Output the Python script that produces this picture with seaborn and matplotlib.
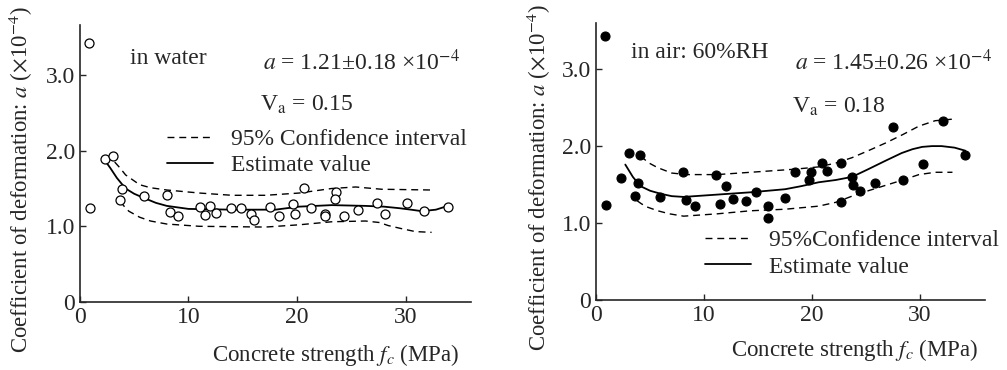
import numpy as np
import pandas as pd
import matplotlib
matplotlib.use('Agg')
import matplotlib.pyplot as plt
import seaborn as sns

# ---- in water: measured points ----
water_fc = [0.8, 0.9, 2.3, 3.0, 3.9, 3.7, 5.9, 8.0, 8.3, 9.0, 11.1, 11.5, 12.0, 12.5,
            13.9, 14.8, 15.8, 16.0, 17.5, 18.3, 19.6, 19.8, 20.6, 21.3, 22.6, 22.6,
            23.6, 23.5, 24.3, 25.6, 27.4, 28.1, 30.1, 31.7, 33.9]
water_a = [3.42, 1.24, 1.89, 1.93, 1.49, 1.35, 1.40, 1.42, 1.19, 1.14, 1.25, 1.15, 1.27, 1.18,
           1.24, 1.24, 1.16, 1.08, 1.25, 1.14, 1.29, 1.16, 1.51, 1.24, 1.16, 1.14,
           1.46, 1.36, 1.13, 1.22, 1.31, 1.16, 1.31, 1.20, 1.26]

# in water: estimate and 95% band
water_est_x = [2.3, 2.8, 3.4, 4.2, 5.0, 5.8, 7.0, 8.0, 10.0, 14.0, 18.0, 20.2, 23.2, 26.3, 28.0, 29.4, 30.5, 31.5, 32.8, 33.9]
water_est_y = [1.87, 1.77, 1.64, 1.50, 1.43, 1.38, 1.31, 1.27, 1.23, 1.22, 1.22, 1.26, 1.28, 1.27, 1.26, 1.24, 1.22, 1.20, 1.22, 1.27]
water_up_x = [3.2, 3.7, 4.2, 5.0, 5.5, 6.5, 8.0, 11.0, 14.0, 17.1, 20.2, 23.2, 25.4, 27.8, 32.4]
water_up_y = [1.85, 1.77, 1.68, 1.60, 1.55, 1.51, 1.48, 1.44, 1.41, 1.41, 1.44, 1.50, 1.52, 1.49, 1.48]
water_lo_x = [3.7, 4.1, 4.5, 5.5, 6.5, 8.0, 11.0, 17.1, 20.2, 23.2, 26.3, 27.6, 28.4, 29.6, 30.9, 32.4]
water_lo_y = [1.33, 1.26, 1.20, 1.12, 1.07, 1.03, 1.00, 0.99, 1.02, 1.06, 1.07, 1.05, 1.01, 0.97, 0.93, 0.92]

# ---- in air: measured points ----
air_fc = [0.84, 0.93, 2.3, 3.0, 4.1, 3.6, 3.85, 5.9, 8.0, 8.3, 9.2, 11.1, 11.5, 12.0,
          12.7, 13.9, 14.8, 15.9, 15.9, 17.5, 18.4, 19.7, 19.9, 20.9, 21.4, 22.7,
          22.7, 23.7, 23.8, 24.4, 25.8, 27.5, 28.4, 30.3, 32.1, 34.2]
air_a = [3.43, 1.23, 1.59, 1.91, 1.89, 1.35, 1.52, 1.34, 1.66, 1.30, 1.22, 1.63, 1.25, 1.48,
         1.31, 1.29, 1.41, 1.22, 1.07, 1.32, 1.66, 1.56, 1.66, 1.78, 1.68, 1.78,
         1.28, 1.60, 1.50, 1.42, 1.52, 2.25, 1.56, 1.77, 2.32, 1.88]

air_est_x = [2.7, 3.4, 4.1, 5.0, 6.0, 7.0, 8.1, 11.2, 14.3, 17.5, 19.0, 20.6, 22.2, 23.7, 25.2, 26.8, 28.3, 29.3, 30.2, 31.1, 32.0, 33.2, 34.2]
air_est_y = [1.76, 1.60, 1.48, 1.42, 1.38, 1.35, 1.34, 1.37, 1.40, 1.44, 1.48, 1.53, 1.56, 1.60, 1.70, 1.81, 1.91, 1.96, 1.99, 2.00, 2.00, 1.98, 1.94]
air_up_x = [4.1, 4.9, 5.7, 7.0, 8.4, 11.2, 14.3, 18.4, 20.6, 22.2, 23.7, 25.2, 26.8, 28.4, 29.9, 31.4, 33.0]
air_up_y = [1.87, 1.78, 1.72, 1.65, 1.63, 1.63, 1.66, 1.70, 1.73, 1.78, 1.85, 1.94, 2.04, 2.15, 2.26, 2.33, 2.35]
air_lo_x = [3.8, 4.2, 4.7, 5.7, 6.8, 8.1, 11.2, 14.3, 17.5, 20.6, 22.2, 23.7, 25.2, 26.8, 28.4, 29.9, 31.4, 33.0]
air_lo_y = [1.29, 1.25, 1.21, 1.16, 1.12, 1.09, 1.12, 1.16, 1.18, 1.22, 1.27, 1.35, 1.42, 1.49, 1.56, 1.63, 1.66, 1.66]

sns.set_style('ticks')
plt.rcParams['font.family'] = ['Liberation Serif', 'DejaVu Serif']
plt.rcParams['mathtext.fontset'] = 'stix'

FS = 17
fig = plt.figure(figsize=(10.07, 3.70), dpi=100)
ax1 = fig.add_axes([0.0794, 0.184, 0.388, 0.748])
ax2 = fig.add_axes([0.592, 0.189, 0.386, 0.749])


def draw_panel(ax, fc, a, filled, est_x, est_y, up_x, up_y, lo_x, lo_y, ylim_top, ci_label):
    pts = pd.DataFrame({'fc': fc, 'a': a})
    if filled:
        sns.scatterplot(data=pts, x='fc', y='a', ax=ax, s=42, color='black',
                        edgecolor='black', linewidth=0.8, zorder=3)
    else:
        sns.scatterplot(data=pts, x='fc', y='a', ax=ax, s=42, facecolor='white',
                        edgecolor='black', linewidth=0.9, zorder=3)
    sns.lineplot(x=up_x, y=up_y, ax=ax, color='black', lw=1.0, linestyle=(0, (5, 3.5)),
                 label=ci_label, sort=False)
    sns.lineplot(x=lo_x, y=lo_y, ax=ax, color='black', lw=1.0, linestyle=(0, (5, 3.5)), sort=False)
    sns.lineplot(x=est_x, y=est_y, ax=ax, color='black', lw=1.3, label='Estimate value', sort=False)
    ax.set_xlim(0, 36)
    ax.set_ylim(0, ylim_top)
    ax.set_xticks([0, 10, 20, 30])
    ax.set_yticks([0, 1.0, 2.0, 3.0])
    ax.set_yticklabels(['0', '1.0', '2.0', '3.0'])
    ax.tick_params(direction='in', labelsize=FS, length=4, width=1)
    sns.despine(ax=ax)
    for s in ['left', 'bottom']:
        ax.spines[s].set_linewidth(1.2)
    ax.set_xlabel(r'Concrete strength $f_c$ (MPa)', fontsize=16.5)
    ax.set_ylabel(r'Coefficient of deformation: $a$ ($\times$10$^{-4}$)', fontsize=16.4)


draw_panel(ax1, water_fc, water_a, False, water_est_x, water_est_y,
           water_up_x, water_up_y, water_lo_x, water_lo_y, 3.66, '95% Confidence interval')
draw_panel(ax2, air_fc, air_a, True, air_est_x, air_est_y,
           air_up_x, air_up_y, air_lo_x, air_lo_y, 3.6, '95%Confidence interval')

ax1.xaxis.set_label_coords(0.654, -0.145)
ax1.yaxis.set_label_coords(-0.115, 0.44)
ax2.xaxis.set_label_coords(0.664, -0.135)
ax2.yaxis.set_label_coords(-0.11, 0.44)

ax1.text(0.128, 0.881, 'in water', transform=ax1.transAxes, fontsize=FS, va='center')
ax1.text(0.469, 0.866, r'$a$ = 1.21±0.18 ×10$^{-4}$', transform=ax1.transAxes, fontsize=FS, va='center')
ax1.text(0.462, 0.711, r'V$_\mathrm{a}$ = 0.15', transform=ax1.transAxes, fontsize=FS, va='center')
ax1.legend(loc='upper left', bbox_to_anchor=(0.223, 0.627), frameon=False, fontsize=FS,
           handlelength=1.95, handletextpad=0.75, labelspacing=0.2, borderpad=0, borderaxespad=0)

ax2.text(0.09, 0.895, 'in air: 60%RH', transform=ax2.transAxes, fontsize=FS, va='center')
ax2.text(0.512, 0.856, r'$a$ = 1.45±0.26 ×10$^{-4}$', transform=ax2.transAxes, fontsize=FS, va='center')
ax2.text(0.504, 0.697, r'V$_\mathrm{a}$ = 0.18', transform=ax2.transAxes, fontsize=FS, va='center')
ax2.legend(loc='upper left', bbox_to_anchor=(0.28, 0.253), frameon=False, fontsize=FS,
           handlelength=1.95, handletextpad=0.75, labelspacing=0.2, borderpad=0, borderaxespad=0)

fig.savefig('out.png', dpi=100)
